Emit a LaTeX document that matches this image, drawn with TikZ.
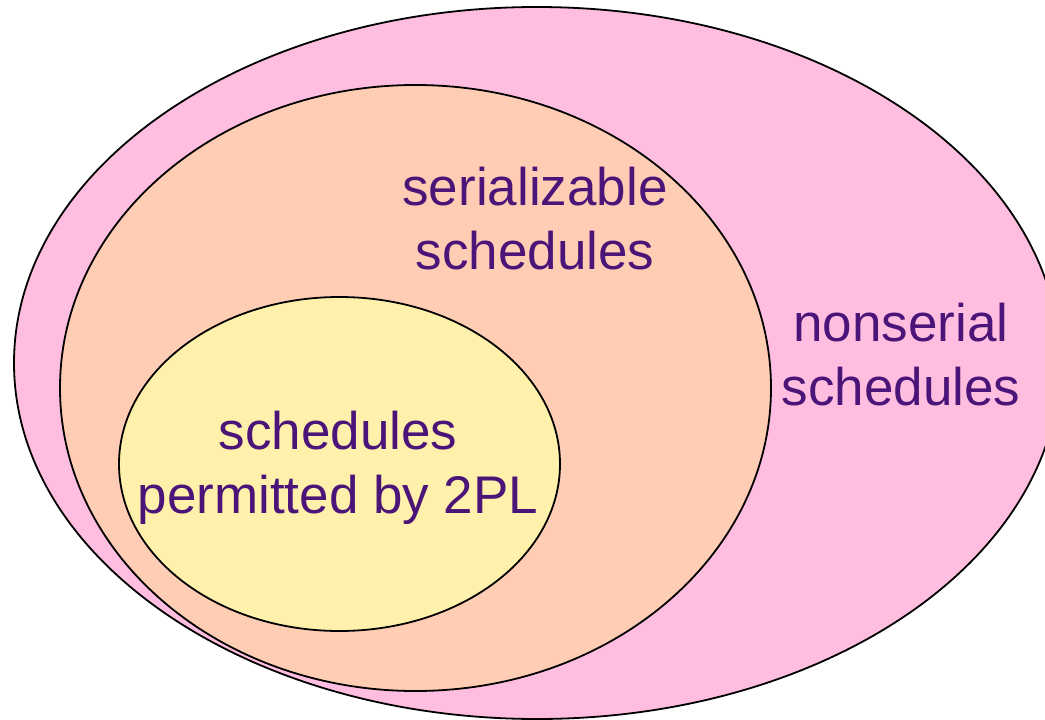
\documentclass[tikz,border=0pt]{standalone}
\usepackage{fontspec}
\setmainfont{Liberation Sans}
\definecolor{outerpink}{HTML}{FFBEE0}
\definecolor{midpeach}{HTML}{FFCDB4}
\definecolor{innerye}{HTML}{FFF1AB}
\definecolor{labelpurple}{HTML}{4B1478}
\tikzset{
  setline/.style={draw=black, line width=1.8pt},
  setlabel/.style={text=labelpurple, align=center, inner sep=0pt,
    font=\fontsize{53}{64}\selectfont, anchor=base}
}
\begin{document}
\begin{tikzpicture}[x=1pt, y=-1pt]
  \useasboundingbox (0,0) rectangle (1045,720);
  \clip (0,0) rectangle (1045,720);
  \fill[white] (0,0) rectangle (1045,720);
  % nested sets of schedules
  \filldraw[setline, fill=outerpink] (537,363) ellipse [x radius=523pt, y radius=356pt];
  \filldraw[setline, fill=midpeach] (415.5,388) ellipse [x radius=355.5pt, y radius=303pt];
  \filldraw[setline, fill=innerye] (339.5,464) ellipse [x radius=220.5pt, y radius=167pt];
  % labels (base anchor sits on the last line)
  \node[setlabel] (ser) at (535,269) {serializable\\schedules};
  \node[setlabel] (non) at (901,405) {nonserial\\schedules};
  \node[setlabel] (tpl) at (338,513) {schedules\\permitted by 2PL};
\end{tikzpicture}
\end{document}
